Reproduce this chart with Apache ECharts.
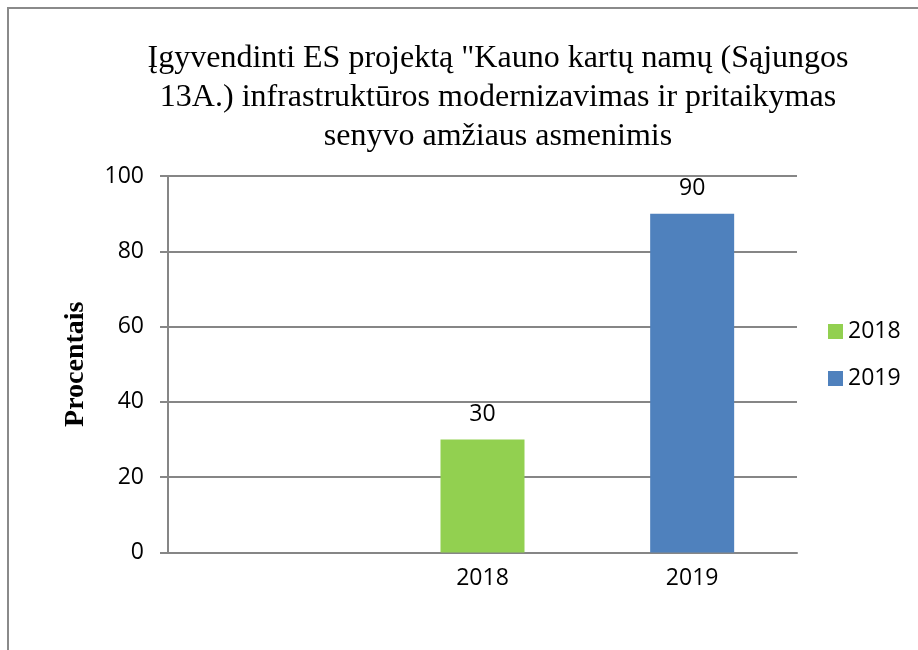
<!DOCTYPE html>
<html>
<head>
<meta charset="utf-8">
<script src="https://cdn.jsdelivr.net/npm/echarts@6/dist/echarts.min.js"></script>
<style>
  html, body { margin: 0; padding: 0; background: #fff; }
  #chart { width: 918px; height: 650px; }
</style>
</head>
<body>
<div id="chart"></div>
<script>
  // data
  var categories = ['', '2018', '2019'];
  var values2018 = ['-', 30, '-'];
  var values2019 = ['-', '-', 90];
  var yTicks = { min: 0, max: 100, interval: 20 };

  var labelFont = 'Open Sans';
  var chart = echarts.init(document.getElementById('chart'));
  chart.setOption({
    animation: false,
    backgroundColor: '#fff',
    title: {
      text: 'Įgyvendinti ES projektą "Kauno kartų namų (Sąjungos\n13A.) infrastruktūros modernizavimas ir pritaikymas\nsenyvo amžiaus asmenimis',
      left: 493,
      top: 34,
      textAlign: 'center',
      textStyle: {
        fontFamily: 'Liberation Serif',
        fontWeight: 'normal',
        fontSize: 32,
        lineHeight: 39,
        color: '#000'
      }
    },
    legend: {
      orient: 'vertical',
      left: 823,
      top: 315,
      itemWidth: 15,
      itemHeight: 15,
      itemGap: 24,
      icon: 'rect',
      textStyle: { fontFamily: labelFont, fontSize: 23, color: '#000' },
      data: ['2018', '2019']
    },
    grid: { left: 168, right: 121, top: 176, bottom: 97.5 },
    xAxis: {
      type: 'category',
      data: categories,
      axisLine: { lineStyle: { color: '#868686', width: 2 } },
      axisTick: { length: 8, lineStyle: { color: '#868686', width: 2 } },
      axisLabel: { fontFamily: labelFont, fontSize: 23, color: '#000', margin: 14 }
    },
    yAxis: {
      type: 'value',
      min: yTicks.min,
      max: yTicks.max,
      interval: yTicks.interval,
      name: 'Procentais',
      nameLocation: 'middle',
      nameGap: 78,
      nameTextStyle: { fontFamily: 'Liberation Serif', fontWeight: 'bold', fontSize: 28, color: '#000' },
      axisLine: { show: true, lineStyle: { color: '#868686', width: 2 } },
      axisTick: { show: true, length: 8, lineStyle: { color: '#868686', width: 2 } },
      axisLabel: { fontFamily: labelFont, fontSize: 23, color: '#000', margin: 24 },
      splitLine: { lineStyle: { color: '#868686', width: 2 } }
    },
    series: [
      {
        name: '2018',
        type: 'bar',
        stack: 'y',
        barWidth: 84,
        data: values2018,
        itemStyle: { color: '#92D050' },
        label: { show: true, position: 'top', distance: 14, fontFamily: labelFont, fontSize: 23, color: '#000' }
      },
      {
        name: '2019',
        type: 'bar',
        stack: 'y',
        barWidth: 84,
        data: values2019,
        itemStyle: { color: '#4F81BD' },
        label: { show: true, position: 'top', distance: 14, fontFamily: labelFont, fontSize: 23, color: '#000' }
      }
    ],
    graphic: [{
      type: 'rect',
      shape: { x: 8, y: 8, width: 1000, height: 1000 },
      style: { fill: 'none', stroke: '#8a8a8a', lineWidth: 2 },
      silent: true
    }]
  });
</script>
</body>
</html>
